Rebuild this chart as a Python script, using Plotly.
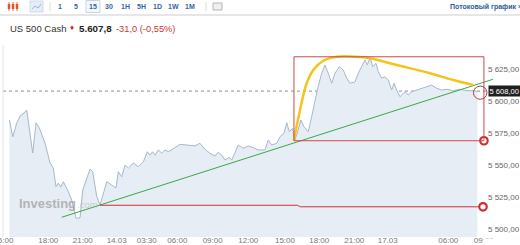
import plotly.graph_objects as go

# ---- data (x = trading hours since 13.03 15:00 on a compressed session axis) ----
times = [0.52, 0.81, 1.15, 1.43, 1.78, 2.01, 2.52, 2.81, 3.09, 3.58,
         4.01, 4.29, 4.52, 4.72, 4.93, 5.15, 5.58, 5.87, 6.24, 6.58,
         6.82, 7.21, 7.44, 7.67, 8.02, 8.30, 8.88, 9.30, 9.67, 9.87,
         10.16, 10.45, 10.73, 11.16, 11.59, 12.02, 12.36, 12.59, 12.82, 13.02,
         13.30, 13.60, 13.88, 14.16, 14.59, 15.17, 15.74, 16.45, 16.88, 17.31,
         17.74, 18.17, 18.45, 18.75, 19.03, 19.40, 19.61, 20.17, 20.60, 21.03,
         21.46, 21.89, 22.46, 22.75, 23.04, 23.47, 23.75, 24.09, 24.33, 24.55,
         24.84, 25.02, 25.24, 25.53, 25.81, 26.18, 26.47, 26.76, 26.95, 27.33,
         27.61, 27.90, 28.19, 28.47, 28.84, 29.18, 29.48, 29.76, 30.19, 30.47,
         30.76, 31.05, 31.25, 31.48, 31.71, 31.99, 32.19, 32.48, 32.76, 33.05,
         33.34, 33.54, 33.77, 34.05, 34.48, 34.76, 35.06, 35.49, 35.91, 36.34,
         36.77, 37.20, 37.63, 38.06, 38.63, 39.20, 39.78, 40.34, 40.69]
prices = [5585.4, 5572.3, 5583.0, 5588.5, 5590.9, 5593.2, 5559.6, 5583.3, 5579.1, 5567.4,
          5551.8, 5547.9, 5533.3, 5536.2, 5533.0, 5537.2, 5529.4, 5522.9, 5508.8, 5508.8,
          5530.7, 5540.1, 5547.1, 5545.0, 5525.5, 5519.0, 5537.2, 5534.6, 5532.3, 5545.0,
          5541.1, 5550.2, 5547.9, 5551.8, 5548.9, 5552.8, 5560.6, 5558.0, 5560.6, 5558.0,
          5562.0, 5559.6, 5562.0, 5560.6, 5563.3, 5566.4, 5565.9, 5565.1, 5567.2, 5562.5,
          5559.4, 5557.3, 5560.2, 5558.0, 5554.1, 5556.3, 5554.1, 5565.9, 5563.3, 5565.1,
          5563.8, 5562.0, 5562.0, 5569.8, 5565.9, 5567.2, 5572.3, 5575.0, 5583.3, 5576.3,
          5578.9, 5569.5, 5575.2, 5585.4, 5580.2, 5576.3, 5588.0, 5601.0, 5608.8, 5621.9,
          5628.4, 5621.9, 5614.1, 5621.9, 5627.0, 5624.5, 5618.0, 5614.1, 5615.3, 5621.9,
          5627.0, 5632.3, 5628.4, 5634.2, 5627.0, 5629.7, 5623.1, 5618.0, 5619.2, 5616.6,
          5608.8, 5614.1, 5608.8, 5603.6, 5607.5, 5604.9, 5607.5, 5608.8, 5610.2, 5611.4,
          5612.7, 5610.2, 5608.8, 5609.4, 5608.3, 5609.4, 5608.3, 5608.3, 5607.8]

tick_times = [0, 3.86, 6.82, 9.73, 12.31, 14.94, 17.97, 21.03, 24.18, 27.12, 30.13, 33.0, 38.2, 41.25]
tick_labels = ["15:00", "18:00", "21:00", "14.03", "03:30", "06:00", "09:00", "12:00",
               "15:00", "18:00", "21:00", "17.03", "06:00", "09:00"]
price_ticks = [5500, 5525, 5550, 5575, 5600, 5625]
price_tick_labels = ["5 500,00", "5 525,00", "5 550,00", "5 575,00", "5 600,00", "5 625,00"]
x_range = [-0.03, 42.21]
y_range = [5494.0, 5644.0]

last_price = 5608.0
last_price_label = "5 608,00"

# drawings on the chart
trend_times = [5.01, 42.03]
trend_prices = [5509.4, 5617.2]
arc_times = [24.95, 25.47, 26.04, 26.61, 27.47, 28.62, 30.33, 31.48, 33.77, 36.63, 38.63, 40.34]
arc_prices = [5569.5, 5593.2, 5614.1, 5624.5, 5631.7, 5634.8, 5634.8, 5633.6, 5628.4, 5621.9, 5616.6, 5612.7]
box_times = [24.95, 41.26]
box_prices = [5569.2, 5634.8]
support_times = [8.30, 25.25, 25.5, 41.18]
support_prices = [5518.8, 5518.8, 5517.6, 5517.6]
ring_times = [40.36, 41.52]
ring_prices = [5601.6, 5611.9]
label_time = 41.61

title_name = "US 500 Cash"
title_price = "5.607,8"
title_change = "-31,0 (-0,55%)"
intervals = ["1", "5", "15", "30", "1H", "5H", "1D", "1W", "1M"]
interval_px = [59.5, 76, 93, 108.5, 125, 141, 157.5, 173, 190]
stream_label = "Потоковый график ›"

# ---- layout helpers (pixel -> paper) ----
W, H = 520, 245
ML, MR, MT, MB = 3, 25, 45, 8
PW, PH = W - ML - MR, H - MT - MB


def X(px):
    return (px - ML) / PW


def Y(py):
    return (H - MB - py) / PH


FONT = "Liberation Sans, Arial, sans-serif"
RED = "#cc3333"

fig = go.Figure()

fig.add_trace(go.Scatter(x=times, y=prices, mode="lines", fill="tozeroy",
                         fillcolor="#e6edf4", line=dict(color="#a6b9cc", width=1),
                         hoverinfo="skip"))
fig.add_trace(go.Scatter(x=trend_times, y=trend_prices, mode="lines",
                         line=dict(color="#3aa84a", width=1), hoverinfo="skip"))
fig.add_trace(go.Scatter(x=support_times, y=support_prices, mode="lines",
                         line=dict(color=RED, width=1), hoverinfo="skip"))
fig.add_trace(go.Scatter(x=arc_times, y=arc_prices, mode="lines",
                         line=dict(color="#f2c41c", width=2.5, shape="spline", smoothing=1.0),
                         hoverinfo="skip"))
fig.add_trace(go.Scatter(x=[box_times[1], support_times[-1]],
                         y=[box_prices[0], support_prices[-1]], mode="markers",
                         marker=dict(symbol="circle", size=7.5, color="white",
                                     line=dict(color="#d42a2a", width=2.2)),
                         cliponaxis=False, hoverinfo="skip"))

shapes = [
    # red rectangle
    dict(type="rect", xref="x", yref="y", x0=box_times[0], x1=box_times[1],
         y0=box_prices[0], y1=box_prices[1], line=dict(color="#c84a4a", width=1)),
    # small ring
    dict(type="circle", xref="x", yref="y", x0=ring_times[0], x1=ring_times[1],
         y0=ring_prices[0], y1=ring_prices[1], line=dict(color="#b04040", width=1)),
    # last price dashed line
    dict(type="line", xref="paper", yref="y", x0=0, x1=1, y0=last_price, y1=last_price,
         line=dict(color="#8c8c8c", width=1, dash="3px,3px"), layer="below"),
    # left border of the plot
    dict(type="line", xref="paper", yref="paper", x0=0, x1=0, y0=0, y1=1,
         line=dict(color="#e4e4e4", width=1)),
    # header separator
    dict(type="line", xref="paper", yref="paper", x0=X(0), x1=X(520), y0=Y(15), y1=Y(15),
         line=dict(color="#e6e6e6", width=2)),
    # toolbar icons
    dict(type="rect", xref="paper", yref="paper", x0=X(30), x1=X(43), y0=Y(12), y1=Y(1),
         fillcolor="#e5edf8", line=dict(color="#cfdbeb", width=1)),
    dict(type="path", xref="paper", yref="paper",
         path=f"M {X(32)},{Y(9)} L {X(35)},{Y(6)} L {X(38)},{Y(8)} L {X(41)},{Y(4)}",
         line=dict(color="#9fb4cf", width=1)),
    dict(type="rect", xref="paper", yref="paper", x0=X(86), x1=X(100), y0=Y(12.5), y1=Y(0.5),
         fillcolor="#f4f7fb", line=dict(color="#c9d5e6", width=1)),
    dict(type="line", xref="paper", yref="paper", x0=X(50), x1=X(50), y0=Y(11), y1=Y(2),
         line=dict(color="#dddddd", width=1)),
    dict(type="line", xref="paper", yref="paper", x0=X(206), x1=X(206), y0=Y(11), y1=Y(2),
         line=dict(color="#dddddd", width=1)),
    dict(type="rect", xref="paper", yref="paper", x0=X(213), x1=X(222), y0=Y(10), y1=Y(3),
         fillcolor="#f0f0f0", line=dict(color="#b5b5b5", width=1)),
]
for cx in (9, 13, 17):
    shapes.append(dict(type="line", xref="paper", yref="paper", x0=X(cx), x1=X(cx),
                       y0=Y(11), y1=Y(2), line=dict(color="#e2703e", width=1)))
    shapes.append(dict(type="line", xref="paper", yref="paper", x0=X(cx), x1=X(cx),
                       y0=Y(9), y1=Y(4), line=dict(color="#d9572b", width=2.5)))

annotations = [
    dict(xref="paper", yref="paper", x=X(8), y=Y(28.5), xanchor="left", yanchor="middle",
         text=title_name, showarrow=False, font=dict(family=FONT, size=9.5, color="#333333")),
    dict(xref="paper", yref="paper", x=X(68), y=Y(28), xanchor="left", yanchor="middle",
         text="♦", showarrow=False, font=dict(family=FONT, size=8, color="#d42a2a")),
    dict(xref="paper", yref="paper", x=X(76.5), y=Y(28.5), xanchor="left", yanchor="middle",
         text=f"<b>{title_price}</b>", showarrow=False,
         font=dict(family=FONT, size=9.8, color="#222222")),
    dict(xref="paper", yref="paper", x=X(114), y=Y(28.5), xanchor="left", yanchor="middle",
         text=title_change, showarrow=False, font=dict(family=FONT, size=9.3, color="#d0352f")),
    dict(xref="paper", yref="paper", x=X(448), y=Y(6.5), xanchor="left", yanchor="middle",
         text=f"<b>{stream_label}</b>", showarrow=False,
         font=dict(family=FONT, size=7, color="#2d5a9e")),
    dict(xref="x", yref="y", x=label_time, y=last_price, xanchor="left", yanchor="middle",
         text=last_price_label, showarrow=False, bgcolor="#1f1f1f", borderpad=0.5,
         font=dict(family=FONT, size=7.6, color="white")),
    dict(xref="paper", yref="paper", x=X(17), y=Y(203), xanchor="left", yanchor="middle",
         text="<b>Investing</b>", showarrow=False,
         font=dict(family=FONT, size=13, color="rgba(140,140,140,0.6)")),
    dict(xref="paper", yref="paper", x=X(74.5), y=Y(204.5), xanchor="left", yanchor="middle",
         text=".com", showarrow=False,
         font=dict(family=FONT, size=9.5, color="rgba(170,170,170,0.5)")),
    # white cover cutting the last x tick label, as in the original widget
    dict(xref="paper", yref="paper", x=X(483), y=Y(237.5), xanchor="left", yanchor="top",
         text=" ", showarrow=False, bgcolor="white", width=40, height=10, borderpad=0,
         font=dict(family=FONT, size=6, color="white")),
]
for lab, px in zip(intervals, interval_px):
    annotations.append(dict(xref="paper", yref="paper", x=X(px), y=Y(6.5), xanchor="center",
                            yanchor="middle", text=f"<b>{lab}</b>", showarrow=False,
                            font=dict(family=FONT, size=7, color="#3a63a3")))

fig.update_layout(
    width=W, height=H, margin=dict(l=ML, r=MR, t=MT, b=MB, autoexpand=False),
    paper_bgcolor="white", plot_bgcolor="white", showlegend=False,
    shapes=shapes, annotations=annotations,
    xaxis=dict(range=x_range, showgrid=False, zeroline=False, showline=False,
               automargin=False,
               tickmode="array", tickvals=tick_times, ticktext=tick_labels, ticks="",
               ticklabeloverflow="allow", ticklabelstandoff=-3,
               tickfont=dict(family=FONT, size=8, color="#777777"), fixedrange=True),
    yaxis=dict(range=y_range, side="right", showgrid=False, zeroline=False, showline=False,
               automargin=False,
               tickmode="array", tickvals=price_ticks, ticktext=price_tick_labels, ticks="",
               ticklabelstandoff=-8,
               tickfont=dict(family=FONT, size=8, color="#666666"), fixedrange=True),
)

fig.write_html("out.html")
